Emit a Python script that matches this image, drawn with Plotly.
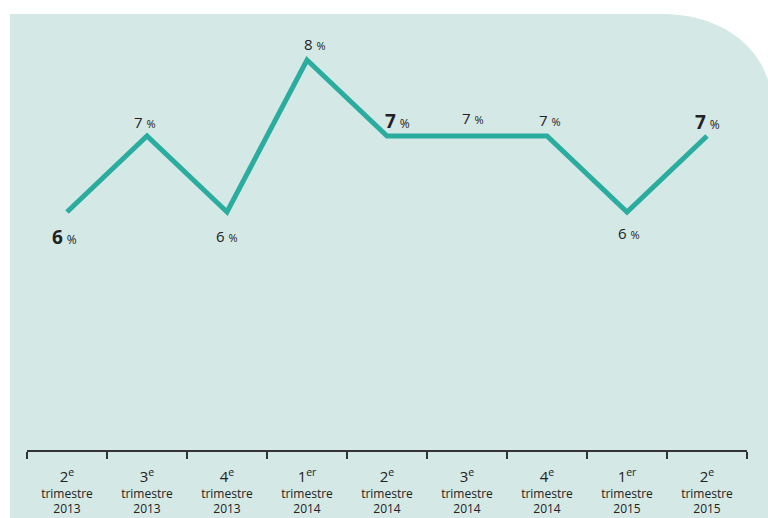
import plotly.graph_objects as go

quarters = ["2<sup>e</sup>", "3<sup>e</sup>", "4<sup>e</sup>", "1<sup>er</sup>", "2<sup>e</sup>",
            "3<sup>e</sup>", "4<sup>e</sup>", "1<sup>er</sup>", "2<sup>e</sup>"]
years = ["2013", "2013", "2013", "2014", "2014", "2014", "2014", "2015", "2015"]
values = [6, 7, 6, 8, 7, 7, 7, 6, 7]
bold = [True, False, False, False, True, False, False, False, True]

# label placement (style only)
label_dx = [-3, -2, 0, 8, 10, 6, 3, 2, 0]
label_dy = [-25, 14, -24, 16, 15, 18, 16, -21, 14]

cats = [f"<span style='font-size:15px'>{q}</span><br>trimestre<br>{y}" for q, y in zip(quarters, years)]

LINE = "#2aac9f"
BG = "#d4e8e6"
TXT = "#222222"

fig = go.Figure()
fig.add_trace(go.Scatter(x=cats, y=values, mode="lines",
                         line=dict(color=LINE, width=5), hoverinfo="skip"))

for i, v in enumerate(values):
    if bold[i]:
        t = f"<b><span style='font-size:19px'>{v}</span></b> <span style='font-size:12px'>%</span>"
    else:
        t = f"<span style='font-size:15px'>{v}</span> <span style='font-size:11px'>%</span>"
    fig.add_annotation(x=i, y=v, text=t, showarrow=False,
                       xshift=label_dx[i], yshift=label_dy[i],
                       font=dict(family="Open Sans", color=TXT, size=15))

# panel with rounded top-right corner (paper coords relative to plot area)
L, T = 27, 14
W, H = 720, 436
def px(x): return (x - L) / W
def py(y): return (T + H - y) / H
path = (f"M {px(10)},{py(518)} L {px(10)},{py(14)} L {px(662)},{py(14)} "
        f"C {px(715)},{py(14)} {px(755)},{py(40)} {px(768)},{py(80)} "
        f"L {px(768)},{py(518)} Z")
fig.add_shape(type="path", path=path, xref="paper", yref="paper",
              fillcolor=BG, line=dict(width=0), layer="below")

fig.update_layout(
    width=768, height=518,
    margin=dict(l=L, r=768 - L - W, t=T, b=518 - T - H),
    paper_bgcolor="white", plot_bgcolor="rgba(0,0,0,0)",
    showlegend=False,
    font=dict(family="Open Sans", color=TXT, size=12),
)
fig.update_xaxes(type="category", range=[-0.5, 8.5], automargin=False,
                 tickson="boundaries", ticks="outside", ticklen=7, tickwidth=1.5,
                 tickcolor="#333333", showline=True, linecolor="#333333", linewidth=1.5,
                 showgrid=False, zeroline=False, tickfont=dict(size=12, color=TXT),
                 ticklabelstandoff=16)
fig.update_yaxes(range=[2.842 + 2 / 76, 8.605], visible=False, showgrid=False, zeroline=False,
                 automargin=False)

fig.write_html("out.html", config={"displayModeBar": False},
               post_script="document.body.style.margin='0';document.body.style.overflow='hidden';")
